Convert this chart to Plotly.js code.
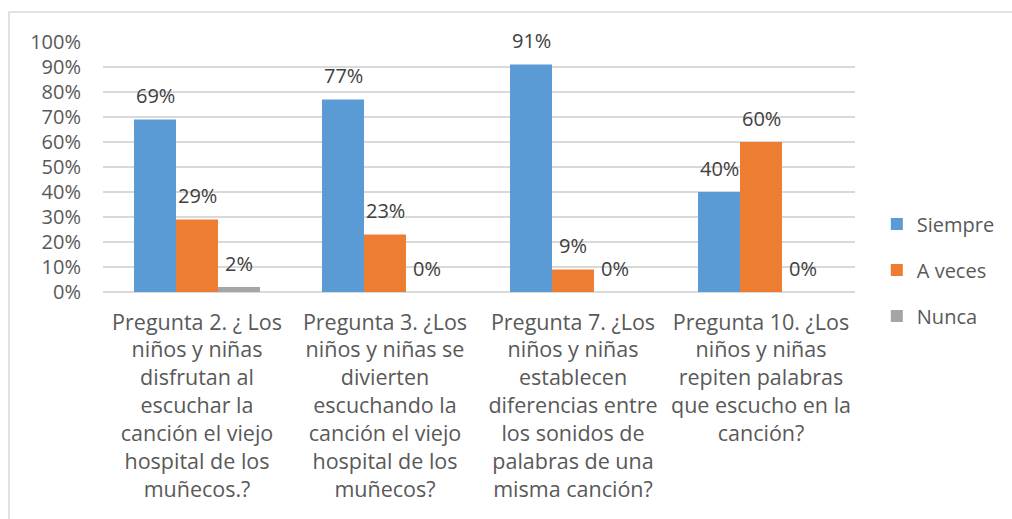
<!DOCTYPE html>
<html>
<head>
<meta charset="utf-8">
<script src="https://cdn.plot.ly/plotly-3.0.1.min.js"></script>
<style>html,body{margin:0;padding:0;background:#fff;}#chart{width:1012px;height:519px;}</style>
</head>
<body>
<div id="chart"></div>
<script>
const categories = [
  "Pregunta 2. ¿ Los<br>niños y niñas<br>disfrutan al<br>escuchar la<br>canción el viejo<br>hospital de los<br>muñecos.?",
  "Pregunta 3. ¿Los<br>niños y niñas se<br>divierten<br>escuchando la<br>canción el viejo<br>hospital de los<br>muñecos?",
  "Pregunta 7. ¿Los<br>niños y niñas<br>establecen<br>diferencias entre<br>los sonidos de<br>palabras de una<br>misma canción?",
  "Pregunta 10. ¿Los<br>niños y niñas<br>repiten palabras<br>que escucho en la<br>canción?"
];
const seriesNames = ["Siempre", "A veces", "Nunca"];
const siempre = [0.69, 0.77, 0.91, 0.40];
const aVeces  = [0.29, 0.23, 0.09, 0.60];
const nunca   = [0.02, 0.00, 0.00, 0.00];
const colors  = ["#5B9BD5", "#ED7D31", "#A5A5A5"];
const yTickVals = [0,0.1,0.2,0.3,0.4,0.5,0.6,0.7,0.8,0.9,1.0];

const seriesValues = [siempre, aVeces, nunca];
const FONT = "'Open Sans', Lato, sans-serif";
const FS = 20;
const FS_CAT = 21.5;
const bargap = 0.33;
const xIdx = categories.map((c,i)=>i);

const traces = seriesValues.map((vals, s) => ({
  type: "bar",
  name: seriesNames[s],
  x: xIdx,
  y: vals,
  marker: {color: colors[s]},
  legendgroup: "g"+s,
  hoverinfo: "name+y"
}));

const annotations = [];
const bw = (1 - bargap) / 3;
seriesValues.forEach((vals, s) => {
  vals.forEach((v, j) => {
    annotations.push({
      x: j + (s - 1) * bw,
      y: v,
      xref: "x", yref: "y",
      text: Math.round(v * 100) + "%",
      showarrow: false,
      yanchor: "middle",
      yshift: 24,
      font: {family: FONT, size: FS, color: "#404040"}
    });
  });
});

const layout = {
  width: 1012, height: 519,
  margin: {l: 103, r: 157, t: 42, b: 227, pad: 0, autoexpand: false},
  paper_bgcolor: "#ffffff",
  plot_bgcolor: "#ffffff",
  barmode: "group",
  bargap: bargap,
  bargroupgap: 0,
  font: {family: FONT, size: FS, color: "#595959"},
  xaxis: {
    tickmode: "array",
    tickvals: xIdx,
    ticktext: categories,
    range: [-0.5, 3.5],
    showgrid: false,
    showline: false,
    zeroline: false,
    ticks: "",
    ticklabelstandoff: 15,
    automargin: false,
    tickfont: {family: FONT, size: FS_CAT, color: "#595959"}
  },
  yaxis: {
    range: [0, 1],
    tickvals: yTickVals,
    tickformat: ".0%",
    showgrid: true,
    gridcolor: "#d9d9d9",
    gridwidth: 1.5,
    zeroline: true,
    zerolinecolor: "#d9d9d9",
    zerolinewidth: 1.5,
    showline: false,
    ticks: "",
    ticklabelstandoff: 21,
    automargin: false,
    tickfont: {family: FONT, size: FS, color: "#595959"}
  },
  legend: {
    x: 1.029, xanchor: "left",
    y: 0.35, yanchor: "top",
    traceorder: "grouped",
    tracegroupgap: 17,
    font: {family: FONT, size: FS, color: "#595959"},
    bgcolor: "rgba(0,0,0,0)"
  },
  annotations: annotations,
  shapes: [{
    type: "rect", xref: "paper", yref: "paper",
    x0: -0.125, x1: 1.3, y0: -1.2, y1: 1.12,
    line: {color: "#d9d9d9", width: 1.5},
    layer: "below"
  }]
};

Plotly.newPlot("chart", traces, layout, {displayModeBar: false, staticPlot: true});
</script>
</body>
</html>
